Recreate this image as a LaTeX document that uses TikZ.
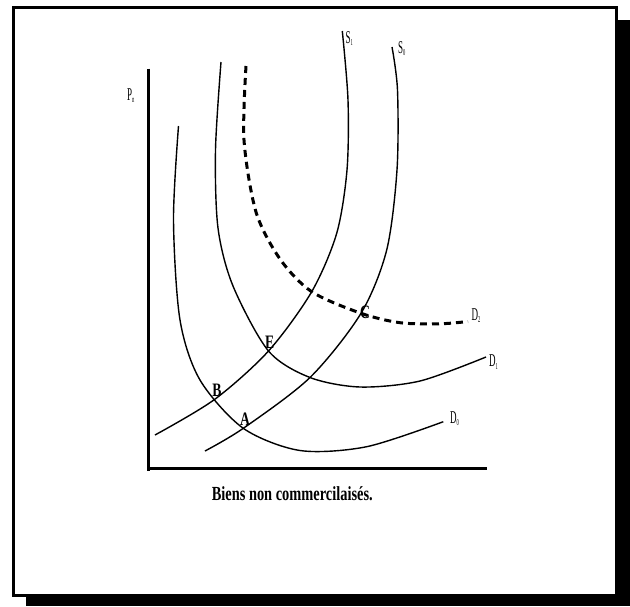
\documentclass[tikz,border=0pt]{standalone}
\usepackage{fontspec}
\setmainfont{Liberation Serif}
\newfontfamily\narrowfont[FakeStretch=0.5]{Liberation Serif}
\newfontfamily\boldnarrow[FakeStretch=0.72]{Liberation Serif}
\usetikzlibrary{positioning,intersections}
\newcommand{\lsub}[1]{\raisebox{-0.35ex}{\fontsize{9}{9}\selectfont #1}}

\begin{document}
\begin{tikzpicture}[
  x=1pt, y=-1pt,
  curve/.style={line width=1.4pt, line join=round},
  dcurve/.style={line width=3pt, dash pattern=on 7pt off 5pt},
  axis/.style={line width=3pt},
  lbl/.style={font=\narrowfont\fontsize{18}{18}\selectfont, inner sep=0pt, anchor=base west},
  ptlbl/.style={font=\boldnarrow\bfseries\fontsize{19}{19}\selectfont, inner sep=0pt, anchor=base west},
]
\useasboundingbox (0,0) rectangle (630,606);
% ---- frame with shadow ----
\fill[black] (26,20) rectangle (630,606);
\filldraw[fill=white, draw=black, line width=3pt] (13.5,7.5) rectangle (616,595.5);

% ---- axes ----
\coordinate (ytop) at (148,68.5);
\coordinate (orig) at (148,468.5);
\coordinate (xend) at (487,468.5);
\draw[axis] (ytop) -- (orig |- 0,470.5);
\draw[axis] (orig) -- (xend);
\node[lbl] (pn) at (127,100) {P\lsub{n}};

% ---- demand curves ----
\draw[curve, name path=d0] plot[smooth] coordinates {(178.5,126) (173.5,220)
  (180,320) (200,380) (243.3,428.3) (300,450.5) (366.7,446.7) (443.3,421.7)};
\draw[curve, name path=d1] plot[smooth] coordinates {(221,62) (215.5,150)
  (218,228) (233,286) (268.5,351) (310,377.5) (360,387) (420,381) (486,357)};
\draw[dcurve, name path=d2] plot[smooth] coordinates {(246,66) (244,140)
  (256,212) (280,259) (311.7,291.7) (361,313.3) (400,322.7) (440,323.8) (468,321.5)};

% ---- supply curves ----
\draw[curve, name path=s1] plot[smooth] coordinates {(155,435) (214.5,399.5)
  (268.5,351) (311.7,291.7) (336.7,233.3) (347,170) (348,100) (342.3,31)};
\draw[curve, name path=s0] plot[smooth] coordinates {(205,451) (243.3,428.3)
  (310,377.5) (361,313.3) (386.7,250) (397,170) (397.5,90) (392,47)};

% ---- equilibrium points ----
\path[name intersections={of=s0 and d0, by=A}];
\path[name intersections={of=s1 and d0, by=B}];
\path[name intersections={of=s0 and d2, by=C}];
\path[name intersections={of=s1 and d1, by=E}];
\node[ptlbl] (la) at ([shift={(-3.3,-3.3)}]A) {A};
\node[ptlbl] (lb) at ([shift={(-2,-3.5)}]B) {B};
\node[ptlbl] (lc) at ([shift={(-1,4.7)}]C) {C};
\node[ptlbl] (le) at ([shift={(-3.5,-3)}]E) {E};

% ---- curve labels ----
\node[lbl] (s1l) at (345.5,43) {S\lsub{1}};
\node[lbl] (s0l) at (398,53) {S\lsub{0}};
\node[lbl] (d2l) at (471.5,320) {D\lsub{2}};
\node[lbl] (d1l) at (489,366.5) {D\lsub{1}};
\node[lbl] (d0l) at (450,423) {D\lsub{0}};

% ---- caption ----
\node[font=\boldnarrow\bfseries\fontsize{20}{20}\selectfont, inner sep=0pt, anchor=base]
  (cap) at (292.3,500) {Biens non commercilaisés.};
\end{tikzpicture}
\end{document}
